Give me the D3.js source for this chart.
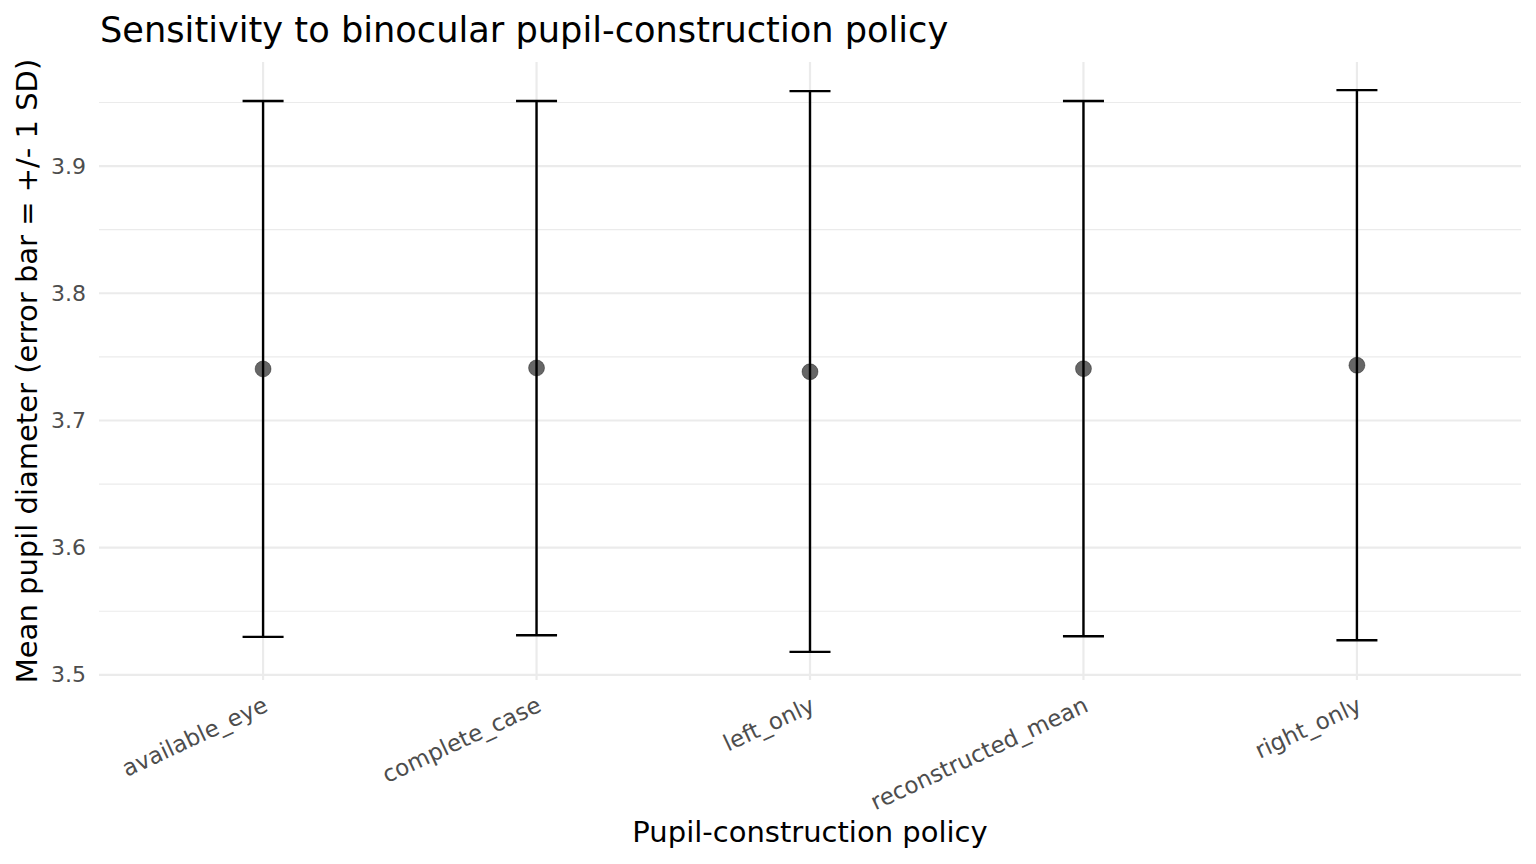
<!DOCTYPE html>
<html>
<head>
<meta charset="utf-8">
<script src="https://cdn.jsdelivr.net/npm/d3@7"></script>
<style>
  body { margin: 0; background: #fff; }
  svg text { font-family: "DejaVu Sans", sans-serif; }
</style>
</head>
<body>
<div id="container"></div>
<script>
/* CONSTANTS AND GLOBALS */
const width = 1536,
  height = 864,
  margin = { top: 62, bottom: 184, left: 99, right: 15 };

/* DATA */
const policies = ["available_eye", "complete_case", "left_only", "reconstructed_mean", "right_only"];
const means = [3.7405, 3.7413, 3.7383, 3.7407, 3.7434];
const lowers = [3.5299, 3.5312, 3.5181, 3.5304, 3.5273];
const uppers = [3.9511, 3.9511, 3.9589, 3.9511, 3.9597];
const yTicks = [3.5, 3.6, 3.7, 3.8, 3.9];
const yMinor = [3.55, 3.65, 3.75, 3.85, 3.95];

const data = policies.map((p, i) => ({ policy: p, mean: means[i], lo: lowers[i], hi: uppers[i] }));

const svg = d3.select("#container")
  .append("svg")
  .attr("width", width)
  .attr("height", height);

// ggplot style expansion: 5% on continuous, 0.6 units on discrete
const yMin = d3.min(lowers), yMax = d3.max(uppers);
const pad = (yMax - yMin) * 0.05;

const yScale = d3.scaleLinear()
  .domain([yMin - pad, yMax + pad])
  .range([height - margin.bottom, margin.top]);

const xIdx = d3.scaleLinear()
  .domain([-0.6, policies.length - 1 + 0.6])
  .range([margin.left, width - margin.right]);
const xScale = p => xIdx(policies.indexOf(p));
const unit = xIdx(1) - xIdx(0);

// grid
const grid = svg.append("g");
grid.selectAll("line.minor")
  .data(yMinor)
  .join("line")
  .attr("x1", margin.left).attr("x2", width - margin.right)
  .attr("y1", d => yScale(d)).attr("y2", d => yScale(d))
  .attr("stroke", "#ebebeb").attr("stroke-width", 1.1);
grid.selectAll("line.major")
  .data(yTicks)
  .join("line")
  .attr("x1", margin.left).attr("x2", width - margin.right)
  .attr("y1", d => yScale(d)).attr("y2", d => yScale(d))
  .attr("stroke", "#ebebeb").attr("stroke-width", 2.2);
grid.selectAll("line.vmajor")
  .data(policies)
  .join("line")
  .attr("x1", d => xScale(d)).attr("x2", d => xScale(d))
  .attr("y1", margin.top).attr("y2", height - margin.bottom)
  .attr("stroke", "#ebebeb").attr("stroke-width", 2.2);

// y axis labels
const yAxis = d3.axisLeft(yScale)
  .tickValues(yTicks)
  .tickFormat(d3.format(".1f"))
  .tickSize(0)
  .tickPadding(13);
svg.append("g")
  .attr("transform", `translate(${margin.left}, 0)`)
  .call(yAxis)
  .call(g => g.select(".domain").remove())
  .selectAll(".tick text")
  .attr("font-size", "22px")
  .attr("fill", "#4d4d4d");

// x axis labels (rotated)
svg.append("g")
  .selectAll("text")
  .data(policies)
  .join("text")
  .attr("transform", d => `translate(${xScale(d) - 1}, ${height - margin.bottom + 15}) rotate(-25)`)
  .attr("text-anchor", "end")
  .attr("dy", "0.75em")
  .attr("font-size", "23px")
  .attr("fill", "#4d4d4d")
  .text(d => d);

// error bars
const capW = unit * 0.15;
const bars = svg.append("g").attr("stroke", "black").attr("stroke-width", 2.4);
bars.selectAll("line.stem")
  .data(data)
  .join("line")
  .attr("x1", d => xScale(d.policy)).attr("x2", d => xScale(d.policy))
  .attr("y1", d => yScale(d.lo)).attr("y2", d => yScale(d.hi));
bars.selectAll("line.top")
  .data(data)
  .join("line")
  .attr("x1", d => xScale(d.policy) - capW / 2).attr("x2", d => xScale(d.policy) + capW / 2)
  .attr("y1", d => yScale(d.hi)).attr("y2", d => yScale(d.hi));
bars.selectAll("line.bottom")
  .data(data)
  .join("line")
  .attr("x1", d => xScale(d.policy) - capW / 2).attr("x2", d => xScale(d.policy) + capW / 2)
  .attr("y1", d => yScale(d.lo)).attr("y2", d => yScale(d.lo));

// points
svg.append("g")
  .selectAll("circle")
  .data(data)
  .join("circle")
  .attr("cx", d => xScale(d.policy))
  .attr("cy", d => yScale(d.mean))
  .attr("r", 8)
  .attr("fill", "rgba(0,0,0,0.6)")
  .attr("stroke", "rgba(0,0,0,0.35)")
  .attr("stroke-width", 1);

// titles
svg.append("text")
  .attr("x", 100)
  .attr("y", 42)
  .attr("font-size", "35.2px")
  .attr("fill", "black")
  .text("Sensitivity to binocular pupil-construction policy");

svg.append("text")
  .attr("x", (margin.left + width - margin.right) / 2)
  .attr("y", 842)
  .attr("text-anchor", "middle")
  .attr("font-size", "29px")
  .attr("fill", "black")
  .text("Pupil-construction policy");

svg.append("text")
  .attr("transform", `translate(37, ${(margin.top + height - margin.bottom) / 2}) rotate(-90)`)
  .attr("text-anchor", "middle")
  .attr("font-size", "29px")
  .attr("fill", "black")
  .text("Mean pupil diameter (error bar = +/- 1 SD)");
</script>
</body>
</html>
